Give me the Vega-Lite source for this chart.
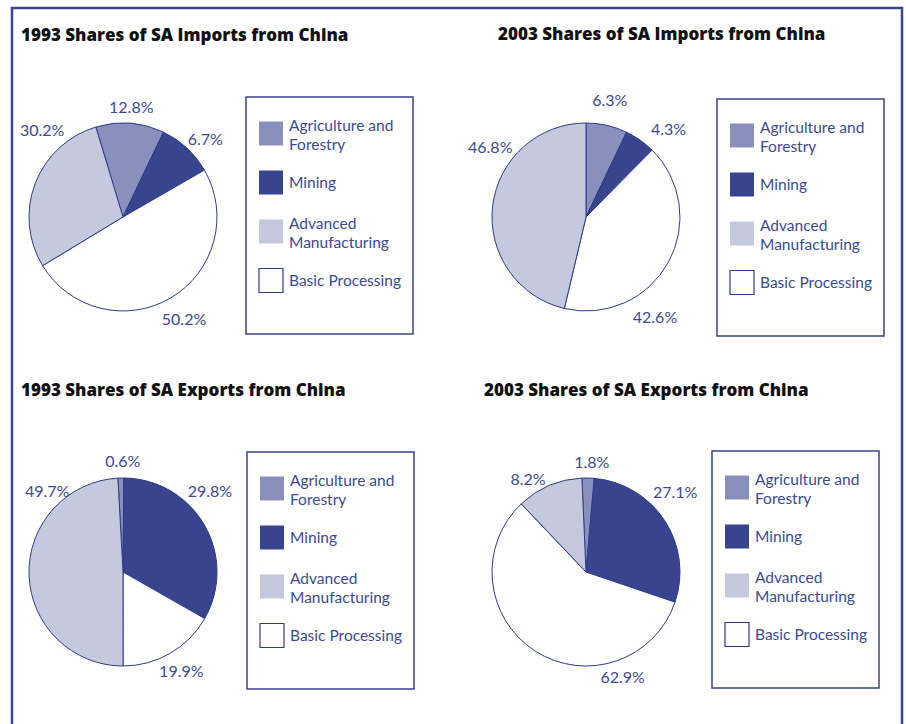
{
  "$schema": "https://vega.github.io/schema/vega-lite/v6.json",
  "width": 890,
  "height": 730,
  "autosize": {"type": "none"},
  "padding": {"left": 12, "top": 8, "right": 4, "bottom": -14},
  "background": "white",
  "config": {
    "view": {"stroke": "#3a4592", "strokeWidth": 2.5},
    "text": {"font": "Lato", "fontSize": 16, "color": "#3d4994"},
    "legend": {
      "labelFont": "Lato",
      "labelFontSize": 15.5,
      "labelColor": "#3d4994",
      "symbolType": "square",
      "symbolSize": 576,
      "symbolStrokeWidth": 1.2,
      "padding": 12,
      "rowPadding": 0,
      "clipHeight": 49,
      "labelOffset": 5,
      "labelLimit": 220,
      "strokeColor": "#38428f",
      "strokeWidth": 1.5,
      "titleOrient": "bottom",
      "titleFontSize": 8,
      "titlePadding": 9
    }
  },
  "datasets": {
    "shares": [
      {"year": "1993", "flow": "Imports", "cat": "Agriculture and Forestry", "ord": 1, "share": 0.128, "drawn": 0.1175},
      {"year": "1993", "flow": "Imports", "cat": "Mining", "ord": 2, "share": 0.067, "drawn": 0.096},
      {"year": "1993", "flow": "Imports", "cat": "Basic Processing", "ord": 3, "share": 0.502, "drawn": 0.4965},
      {"year": "1993", "flow": "Imports", "cat": "Advanced Manufacturing", "ord": 4, "share": 0.302, "drawn": 0.29},
      {"year": "2003", "flow": "Imports", "cat": "Agriculture and Forestry", "ord": 1, "share": 0.063, "drawn": 0.071},
      {"year": "2003", "flow": "Imports", "cat": "Mining", "ord": 2, "share": 0.043, "drawn": 0.053},
      {"year": "2003", "flow": "Imports", "cat": "Basic Processing", "ord": 3, "share": 0.426, "drawn": 0.413},
      {"year": "2003", "flow": "Imports", "cat": "Advanced Manufacturing", "ord": 4, "share": 0.468, "drawn": 0.463},
      {"year": "1993", "flow": "Exports", "cat": "Agriculture and Forestry", "ord": 1, "share": 0.006, "drawn": 0.01},
      {"year": "1993", "flow": "Exports", "cat": "Mining", "ord": 2, "share": 0.298, "drawn": 0.331},
      {"year": "1993", "flow": "Exports", "cat": "Basic Processing", "ord": 3, "share": 0.199, "drawn": 0.1675},
      {"year": "1993", "flow": "Exports", "cat": "Advanced Manufacturing", "ord": 4, "share": 0.497, "drawn": 0.4915},
      {"year": "2003", "flow": "Exports", "cat": "Agriculture and Forestry", "ord": 1, "share": 0.018, "drawn": 0.021},
      {"year": "2003", "flow": "Exports", "cat": "Mining", "ord": 2, "share": 0.271, "drawn": 0.288},
      {"year": "2003", "flow": "Exports", "cat": "Basic Processing", "ord": 3, "share": 0.629, "drawn": 0.577},
      {"year": "2003", "flow": "Exports", "cat": "Advanced Manufacturing", "ord": 4, "share": 0.082, "drawn": 0.114}
    ],
    "titles": [
      {"year": "1993", "flow": "Imports", "title": "1993 Shares of SA Imports from China"},
      {"year": "2003", "flow": "Imports", "title": "2003 Shares of SA Imports from China"},
      {"year": "1993", "flow": "Exports", "title": "1993 Shares of SA Exports from China"},
      {"year": "2003", "flow": "Exports", "title": "2003 Shares of SA Exports from China"}
    ]
  },
  "data": {"name": "shares"},
  "encoding": {
    "x": {"field": "year", "type": "nominal", "scale": {"type": "point", "domain": ["1993", "2003"], "range": [111, 574], "padding": 0}, "axis": null},
    "y": {"field": "flow", "type": "nominal", "scale": {"type": "point", "domain": ["Imports", "Exports"], "range": [209, 564], "padding": 0}, "axis": null}
  },
  "layer": [
    {
      "transform": [{"filter": "datum.year === '1993' && datum.flow === 'Imports'"}],
      "layer": [
        {
          "mark": {"type": "arc", "radius": 94, "stroke": "#2f3b8a", "strokeWidth": 1},
          "encoding": {
            "theta": {"field": "drawn", "type": "quantitative", "stack": true, "scale": {"domain": [0, 1], "range": [-0.2932, 5.99]}},
            "order": {"field": "ord", "type": "quantitative"},
            "color": {"field": "cat", "type": "nominal",
              "scale": {"domain": ["Agriculture and Forestry", "Mining", "Advanced Manufacturing", "Basic Processing"], "range": ["#8a90bc", "#38448e", "#c5c9de", "#ffffff"]},
              "legend": {"orient": "none", "legendX": 234, "legendY": 89, "title": " ",
                "labelExpr": "datum.label === 'Agriculture and Forestry' ? ['Agriculture and', 'Forestry'] : datum.label === 'Advanced Manufacturing' ? ['Advanced', 'Manufacturing'] : datum.label",
                "encoding": {"symbols": {"stroke": {"condition": {"test": "datum.value === 'Basic Processing'", "value": "#2f3b8a"}, "value": "transparent"}}, "labels": {"lineHeight": {"value": 19}, "dy": {"condition": {"test": "datum.value === 'Agriculture and Forestry' || datum.value === 'Advanced Manufacturing'", "value": -8}, "value": 0}}}}}
          }
        },
        {
          "mark": {"type": "text", "radius": {"expr": "datum.cat === 'Agriculture and Forestry' ? 109 : datum.cat === 'Mining' ? 113 : datum.cat === 'Basic Processing' ? 120 : 118"}, "thetaOffset": {"expr": "datum.cat === 'Mining' ? 0.07 : datum.cat === 'Advanced Manufacturing' ? 0.45 : 0"}},
          "encoding": {
            "theta": {"field": "drawn", "type": "quantitative", "stack": true},
            "order": {"field": "ord", "type": "quantitative"},
            "detail": {"field": "cat"},
            "text": {"field": "share", "type": "quantitative", "format": ".1%"}
          }
        }
      ]
    },
    {
      "transform": [{"filter": "datum.year === '2003' && datum.flow === 'Imports'"}],
      "layer": [
        {
          "mark": {"type": "arc", "radius": 94, "stroke": "#2f3b8a", "strokeWidth": 1},
          "encoding": {
            "theta": {"field": "drawn", "type": "quantitative", "stack": true, "scale": {"domain": [0, 1], "range": [0, 6.2832]}},
            "order": {"field": "ord", "type": "quantitative"},
            "color": {"field": "cat", "type": "nominal",
              "scale": {"domain": ["Agriculture and Forestry", "Mining", "Advanced Manufacturing", "Basic Processing"], "range": ["#8a90bc", "#38448e", "#c5c9de", "#ffffff"]},
              "legend": {"orient": "none", "legendX": 705, "legendY": 91, "title": " ",
                "labelExpr": "datum.label === 'Agriculture and Forestry' ? ['Agriculture and', 'Forestry'] : datum.label === 'Advanced Manufacturing' ? ['Advanced', 'Manufacturing'] : datum.label",
                "encoding": {"symbols": {"stroke": {"condition": {"test": "datum.value === 'Basic Processing'", "value": "#2f3b8a"}, "value": "transparent"}}, "labels": {"lineHeight": {"value": 19}, "dy": {"condition": {"test": "datum.value === 'Agriculture and Forestry' || datum.value === 'Advanced Manufacturing'", "value": -8}, "value": 0}}}}}
          }
        },
        {
          "mark": {"type": "text", "radius": {"expr": "datum.cat === 'Agriculture and Forestry' ? 118 : datum.cat === 'Mining' ? 120 : datum.cat === 'Basic Processing' ? 122 : 118"}, "thetaOffset": {"expr": "datum.cat === 'Agriculture and Forestry' ? -0.02 : datum.cat === 'Mining' ? 0.145 : datum.cat === 'Basic Processing' ? 0.464 : 0.508"}},
          "encoding": {
            "theta": {"field": "drawn", "type": "quantitative", "stack": true},
            "order": {"field": "ord", "type": "quantitative"},
            "detail": {"field": "cat"},
            "text": {"field": "share", "type": "quantitative", "format": ".1%"}
          }
        }
      ]
    },
    {
      "transform": [{"filter": "datum.year === '1993' && datum.flow === 'Exports'"}],
      "layer": [
        {
          "mark": {"type": "arc", "radius": 94, "stroke": "#2f3b8a", "strokeWidth": 1},
          "encoding": {
            "theta": {"field": "drawn", "type": "quantitative", "stack": true, "scale": {"domain": [0, 1], "range": [-0.0541, 6.2291]}},
            "order": {"field": "ord", "type": "quantitative"},
            "color": {"field": "cat", "type": "nominal",
              "scale": {"domain": ["Agriculture and Forestry", "Mining", "Advanced Manufacturing", "Basic Processing"], "range": ["#8a90bc", "#38448e", "#c5c9de", "#ffffff"]},
              "legend": {"orient": "none", "legendX": 235, "legendY": 444, "title": " ",
                "labelExpr": "datum.label === 'Agriculture and Forestry' ? ['Agriculture and', 'Forestry'] : datum.label === 'Advanced Manufacturing' ? ['Advanced', 'Manufacturing'] : datum.label",
                "encoding": {"symbols": {"stroke": {"condition": {"test": "datum.value === 'Basic Processing'", "value": "#2f3b8a"}, "value": "transparent"}}, "labels": {"lineHeight": {"value": 19}, "dy": {"condition": {"test": "datum.value === 'Agriculture and Forestry' || datum.value === 'Advanced Manufacturing'", "value": -8}, "value": 0}}}}}
          }
        },
        {
          "mark": {"type": "text", "radius": {"expr": "datum.cat === 'Agriculture and Forestry' ? 110 : datum.cat === 'Mining' ? 118 : datum.cat === 'Basic Processing' ? 116 : 110"}, "thetaOffset": {"expr": "datum.cat === 'Agriculture and Forestry' ? 0.02 : datum.cat === 'Mining' ? -0.22 : datum.cat === 'Basic Processing' ? 0 : 0.838"}},
          "encoding": {
            "theta": {"field": "drawn", "type": "quantitative", "stack": true},
            "order": {"field": "ord", "type": "quantitative"},
            "detail": {"field": "cat"},
            "text": {"field": "share", "type": "quantitative", "format": ".1%"}
          }
        }
      ]
    },
    {
      "transform": [{"filter": "datum.year === '2003' && datum.flow === 'Exports'"}],
      "layer": [
        {
          "mark": {"type": "arc", "radius": 94, "stroke": "#2f3b8a", "strokeWidth": 1},
          "encoding": {
            "theta": {"field": "drawn", "type": "quantitative", "stack": true, "scale": {"domain": [0, 1], "range": [-0.0436, 6.2396]}},
            "order": {"field": "ord", "type": "quantitative"},
            "color": {"field": "cat", "type": "nominal",
              "scale": {"domain": ["Agriculture and Forestry", "Mining", "Advanced Manufacturing", "Basic Processing"], "range": ["#8a90bc", "#38448e", "#c5c9de", "#ffffff"]},
              "legend": {"orient": "none", "legendX": 700, "legendY": 443, "title": " ",
                "labelExpr": "datum.label === 'Agriculture and Forestry' ? ['Agriculture and', 'Forestry'] : datum.label === 'Advanced Manufacturing' ? ['Advanced', 'Manufacturing'] : datum.label",
                "encoding": {"symbols": {"stroke": {"condition": {"test": "datum.value === 'Basic Processing'", "value": "#2f3b8a"}, "value": "transparent"}}, "labels": {"lineHeight": {"value": 19}, "dy": {"condition": {"test": "datum.value === 'Agriculture and Forestry' || datum.value === 'Advanced Manufacturing'", "value": -8}, "value": 0}}}}}
          }
        },
        {
          "mark": {"type": "text", "radius": {"expr": "datum.cat === 'Agriculture and Forestry' ? 109 : datum.cat === 'Mining' ? 119 : datum.cat === 'Basic Processing' ? 112 : 109"}, "thetaOffset": {"expr": "datum.cat === 'Agriculture and Forestry' ? 0.03 : datum.cat === 'Mining' ? -0.147 : datum.cat === 'Basic Processing' ? -0.902 : -0.159"}},
          "encoding": {
            "theta": {"field": "drawn", "type": "quantitative", "stack": true},
            "order": {"field": "ord", "type": "quantitative"},
            "detail": {"field": "cat"},
            "text": {"field": "share", "type": "quantitative", "format": ".1%"}
          }
        }
      ]
    },
    {
      "data": {"name": "titles"},
      "transform": [{"filter": "!(datum.year === '2003' && datum.flow === 'Imports')"}],
      "mark": {"type": "text", "align": "left", "baseline": "alphabetic", "dx": -102, "dy": -176, "font": "Open Sans", "fontWeight": 800, "fontSize": 17, "color": "#111111"},
      "encoding": {"text": {"field": "title"}}
    },
    {
      "data": {"name": "titles"},
      "transform": [{"filter": "datum.year === '2003' && datum.flow === 'Imports'"}],
      "mark": {"type": "text", "align": "left", "baseline": "alphabetic", "dx": -88, "dy": -177, "font": "Open Sans", "fontWeight": 800, "fontSize": 17, "color": "#111111"},
      "encoding": {"text": {"field": "title"}}
    }
  ],
  "resolve": {"scale": {"theta": "independent", "color": "independent"}, "legend": {"color": "independent"}}
}
